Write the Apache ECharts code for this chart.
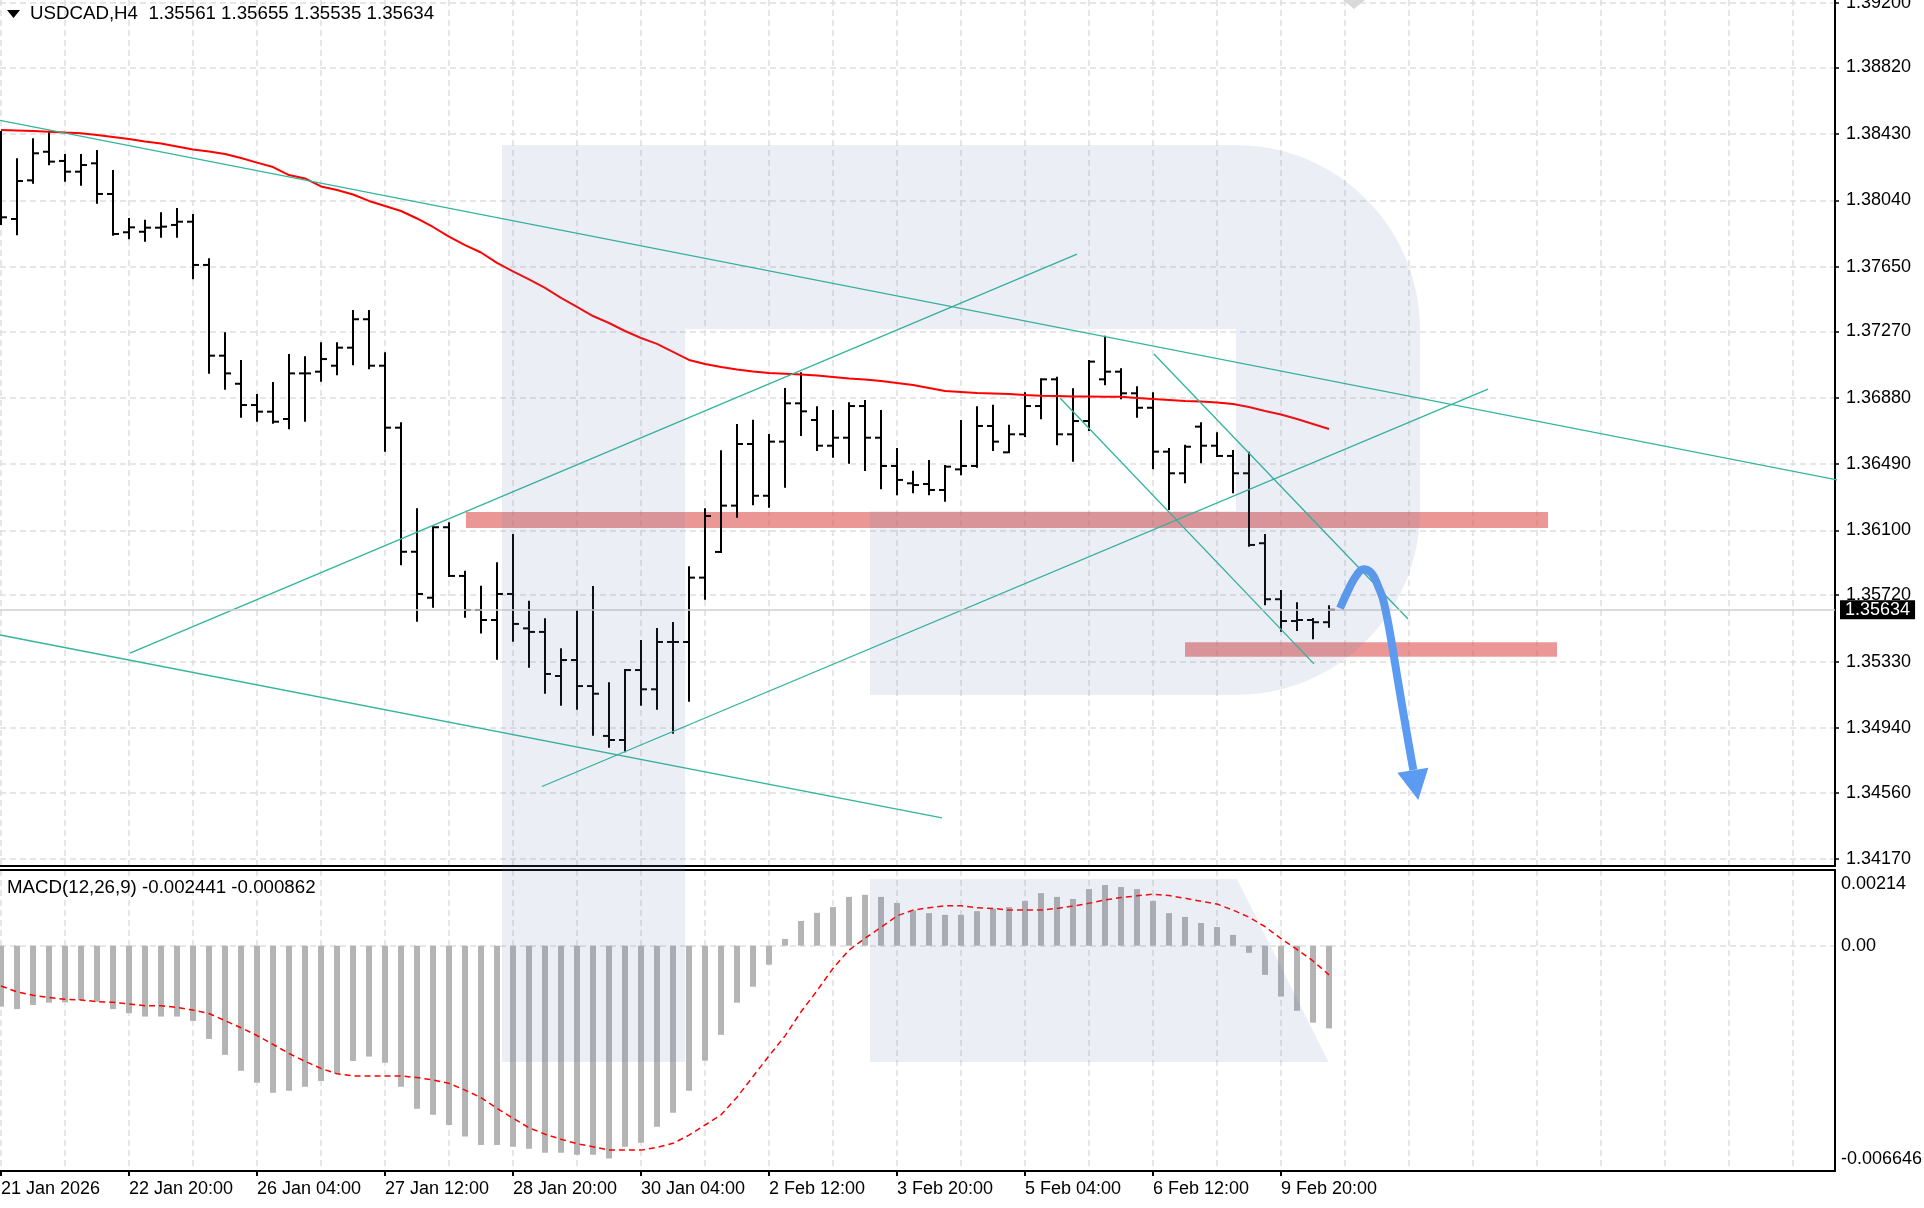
<!DOCTYPE html>
<html>
<head>
<meta charset="utf-8">
<script src="https://cdn.jsdelivr.net/npm/echarts@6.0.0/dist/echarts.min.js"></script>
<style>html,body{margin:0;padding:0;background:#fff;overflow:hidden}#c{width:1924px;height:1208px}</style>
</head>
<body>
<div id="c"></div>
<script>
// ---------------- DATA ----------------
const headerText = 'USDCAD,H4  1.35561 1.35655 1.35535 1.35634';
const macdText = 'MACD(12,26,9) -0.002441 -0.000862';

const barOpen = [1.38335,1.37930,1.38157,1.38325,1.38271,1.38208,1.38257,1.38077,1.37852,1.37855,
1.37879,1.37895,1.37914,1.37660,1.37127,1.36962,1.36837,1.36798,1.36755,1.37023,
1.37033,1.37068,1.37174,1.37341,1.37068,1.36704,1.35975,1.35705,1.36119,1.35833,
1.35633,1.35574,1.35727,1.35525,1.35504,1.35245,1.35339,1.35186,1.34893,1.34869,
1.35280,1.35167,1.35445,1.35445,1.35823,1.35974,1.36246,1.36608,1.36304,1.36622,
1.36847,1.36749,1.36598,1.36645,1.36831,1.36645,1.36479,1.36377,1.36373,1.36338,
1.36459,1.36479,1.36714,1.36559,1.36665,1.36831,1.36988,1.36665,1.36743,1.36988,
1.37033,1.36906,1.36821,1.36563,1.36436,1.36710,1.36598,1.36538,1.36436,1.36025,
1.35696,1.35568,1.35574,1.35561];
const barHigh = [1.38441,1.38281,1.38398,1.38443,1.38306,1.38306,1.38329,1.38212,1.37930,1.37920,
1.37963,1.37989,1.37953,1.37693,1.37258,1.37096,1.36896,1.36966,1.37131,1.37117,
1.37200,1.37200,1.37389,1.37389,1.37141,1.36730,1.36224,1.36119,1.36142,1.35858,
1.35770,1.35907,1.36073,1.35682,1.35578,1.35402,1.35625,1.35768,1.35202,1.35280,
1.35451,1.35521,1.35556,1.35884,1.36224,1.36565,1.36720,1.36745,1.36661,1.36931,
1.37023,1.36824,1.36802,1.36847,1.36861,1.36802,1.36579,1.36445,1.36508,1.36479,
1.36743,1.36824,1.36833,1.36716,1.36906,1.36988,1.36998,1.36930,1.37096,1.37238,
1.37047,1.36941,1.36906,1.36579,1.36598,1.36730,1.36671,1.36567,1.36557,1.36073,
1.35744,1.35672,1.35580,1.35655];
const barLow = [1.37901,1.37840,1.38143,1.38251,1.38155,1.38131,1.38026,1.37838,1.37817,1.37802,
1.37826,1.37826,1.37582,1.37027,1.36933,1.36768,1.36745,1.36733,1.36700,1.36745,
1.36980,1.37018,1.37076,1.37053,1.36569,1.35901,1.35570,1.35652,1.35833,1.35593,
1.35500,1.35347,1.35452,1.35300,1.35147,1.35076,1.35053,1.34900,1.34830,1.34803,
1.35076,1.35053,1.34912,1.35100,1.35699,1.35974,1.36181,1.36254,1.36240,1.36357,
1.36661,1.36573,1.36533,1.36498,1.36455,1.36348,1.36313,1.36324,1.36313,1.36275,
1.36430,1.36475,1.36573,1.36559,1.36655,1.36759,1.36606,1.36510,1.36690,1.36959,
1.36877,1.36768,1.36465,1.36226,1.36383,1.36501,1.36538,1.36324,1.36011,1.35666,
1.35511,1.35515,1.35467,1.35535];
const barClose = [1.37940,1.38153,1.38316,1.38267,1.38208,1.38247,1.38077,1.37842,1.37881,1.37879,
1.37885,1.37914,1.37660,1.37127,1.37023,1.36837,1.36798,1.36739,1.37023,1.37023,
1.37107,1.37174,1.37341,1.37068,1.36704,1.35975,1.35727,1.36119,1.35833,1.35633,
1.35574,1.35727,1.35551,1.35504,1.35257,1.35339,1.35186,1.35141,1.34869,1.35280,
1.35167,1.35445,1.35445,1.35823,1.36185,1.36246,1.36608,1.36304,1.36622,1.36847,
1.36800,1.36598,1.36645,1.36831,1.36645,1.36479,1.36397,1.36367,1.36338,1.36475,
1.36479,1.36714,1.36622,1.36665,1.36831,1.36988,1.36665,1.36743,1.37092,1.37033,
1.36906,1.36821,1.36563,1.36436,1.36592,1.36598,1.36538,1.36436,1.36015,1.35696,
1.35568,1.35574,1.35561,1.35634];

const maValues = [1.38453,1.38450,1.38447,1.38443,1.38438,1.38434,1.38423,1.38412,1.38400,1.38385,
1.38374,1.38356,1.38338,1.38327,1.38312,1.38288,1.38261,1.38235,1.38188,1.38168,
1.38121,1.38100,1.38074,1.38036,1.38006,1.37977,1.37933,1.37883,1.37827,1.37777,
1.37733,1.37672,1.37622,1.37575,1.37525,1.37466,1.37413,1.37360,1.37319,1.37272,
1.37231,1.37196,1.37149,1.37102,1.37078,1.37061,1.37046,1.37034,1.37025,1.37021,
1.37016,1.37010,1.37002,1.36993,1.36987,1.36978,1.36966,1.36955,1.36937,1.36919,
1.36914,1.36908,1.36905,1.36902,1.36896,1.36892,1.36890,1.36887,1.36887,1.36886,
1.36886,1.36878,1.36872,1.36867,1.36861,1.36858,1.36852,1.36843,1.36825,1.36802,
1.36781,1.36755,1.36726,1.36696];

const macdHist = [-0.00180,-0.00187,-0.00175,-0.00168,-0.00167,-0.00160,-0.00165,-0.00187,-0.00199,-0.00209,
-0.00209,-0.00209,-0.00222,-0.00275,-0.00322,-0.00369,-0.00404,-0.00434,-0.00428,-0.00416,
-0.00399,-0.00377,-0.00340,-0.00327,-0.00345,-0.00416,-0.00481,-0.00499,-0.00529,-0.00563,
-0.00588,-0.00588,-0.00593,-0.00599,-0.00611,-0.00611,-0.00617,-0.00617,-0.00628,-0.00593,
-0.00581,-0.00534,-0.00493,-0.00428,-0.00339,-0.00263,-0.00168,-0.00121,-0.00056,0.00020,
0.00073,0.00097,0.00114,0.00144,0.00150,0.00144,0.00126,0.00104,0.00096,0.00091,
0.00091,0.00102,0.00109,0.00114,0.00132,0.00155,0.00144,0.00138,0.00167,0.00179,
0.00173,0.00167,0.00132,0.00096,0.00085,0.00067,0.00055,0.00032,-0.00021,-0.00086,
-0.00150,-0.00192,-0.00227,-0.00244];
const macdSignal = [-0.00119,-0.00136,-0.00146,-0.00153,-0.00158,-0.00160,-0.00165,-0.00167,-0.00172,-0.00177,
-0.00177,-0.00182,-0.00190,-0.00200,-0.00221,-0.00242,-0.00265,-0.00291,-0.00318,-0.00341,
-0.00362,-0.00378,-0.00384,-0.00384,-0.00384,-0.00384,-0.00389,-0.00396,-0.00406,-0.00426,
-0.00448,-0.00480,-0.00509,-0.00537,-0.00556,-0.00571,-0.00584,-0.00593,-0.00603,-0.00603,
-0.00603,-0.00595,-0.00583,-0.00559,-0.00529,-0.00499,-0.00447,-0.00386,-0.00325,-0.00266,
-0.00195,-0.00133,-0.00067,-0.00013,0.00022,0.00054,0.00088,0.00105,0.00112,0.00118,
0.00118,0.00112,0.00110,0.00105,0.00105,0.00105,0.00110,0.00117,0.00125,0.00135,
0.00142,0.00147,0.00152,0.00148,0.00140,0.00131,0.00123,0.00105,0.00084,0.00056,
0.00021,-0.00011,-0.00045,-0.00086];

const priceTicks = [1.39200,1.38820,1.38430,1.38040,1.37650,1.37270,1.36880,1.36490,1.36100,1.35720,1.35330,1.34940,1.34560,1.34170];
const timeLabels = ['21 Jan 2026','22 Jan 20:00','26 Jan 04:00','27 Jan 12:00','28 Jan 20:00','30 Jan 04:00','2 Feb 12:00','3 Feb 20:00','5 Feb 04:00','6 Feb 12:00','9 Feb 20:00'];
const timeLabelIdx = [0,8,16,24,32,40,48,56,64,72,80];
const gridIdx = [0,4,8,12,16,20,24,28,32,36,40,44,48,52,56,60,64,68,72,76,80,84,88,92,96,100,104,108,112];
const macdTicks = [0.00214, 0, -0.006646];
const macdTickText = ['0.00214','0.00','-0.006646'];
const bidPrice = 1.35634;

// trend lines: [bar index, price] pairs
const trendLines = [
  [[-0.06,1.38510],[120.19,1.36297]],
  [[-0.06,1.35486],[58.81,1.34411]],
  [[8.06,1.35380],[67.25,1.37724]],
  [[33.81,1.34596],[92.94,1.36931]],
  [[66.19,1.36878],[82.06,1.35316]],
  [[72.06,1.37137],[87.94,1.35580]]
];
// horizontal zones: [[startIdx, topPrice],[endIdx, bottomPrice]]
const zones = [
  [[29.06,1.36209],[96.69,1.36115]],
  [[74.00,1.35443],[97.25,1.35358]]
];
// forecast arrow (bar index, price)
const arrowPath = [[83.69,1.35643],[84.31,1.35770],[84.73,1.35838],[85.14,1.35872],[85.67,1.35848],[86.08,1.35770],[86.39,1.35692],[86.81,1.35498],[87.33,1.35204],[87.86,1.34910],[88.27,1.34693]];
const arrowHead = [[87.27,1.34677],[89.21,1.34706],[88.58,1.34517]];

// ---------------- CHART ----------------
const FONT = 'Liberation Sans';
const X_MIN = -0.0625, X_MAX = 114.625;
const Y_MAX = 1.3921656, Y_MIN = 1.3412881;
const TEAL = '#31b59b';
const BLUE = '#5b9bf2';
const gridLine = {show:true, lineStyle:{color:'#dedede', width:1.5, type:[6,4]}};
const ohlc = barOpen.map((o,i)=>[i,o,barClose[i],barLow[i],barHigh[i]]);

const chart = echarts.init(document.getElementById('c'), null, {renderer:'canvas'});

function arcPts(cx, cy, r, a0, a1, n){
  const p=[]; for(let k=0;k<=n;k++){const a=(a0+(a1-a0)*k/n)*Math.PI/180; p.push([cx+r*Math.cos(a), cy+r*Math.sin(a)]);} return p;
}
const LOGO = 'rgba(98,128,180,0.13)';
const bowl = [[685,145]].concat(arcPts(1236,329,184,-90,0,24)).concat(arcPts(1236,511,184,0,90,24)).concat([[870,695],[870,511],[1236,511],[1236,329],[685,329]]);

const series = [];
// zones
series.push({
  type:'line', xAxisIndex:0, yAxisIndex:0, data:[], z:1, silent:true,
  markArea:{silent:true, itemStyle:{color:'rgba(221,82,80,0.6)'},
    data: zones.map(z=>[{coord:z[0]},{coord:z[1]}])}
});
// OHLC bars
series.push({
  type:'custom', xAxisIndex:0, yAxisIndex:0, z:2, data: ohlc,
  encode:{x:0, y:[1,2,3,4]},
  renderItem:(params, api)=>{
    const x = api.value(0);
    const o = api.coord([x, api.value(1)]);
    const c = api.coord([x, api.value(2)]);
    const l = api.coord([x, api.value(3)]);
    const h = api.coord([x, api.value(4)]);
    const cx = Math.round(o[0]);
    return {type:'group', children:[
      {type:'rect', shape:{x:cx-1, y:h[1]-1, width:2, height:Math.max(2,l[1]-h[1]+2)}, style:{fill:'#000'}},
      {type:'rect', shape:{x:cx-6, y:o[1]-1, width:5, height:2}, style:{fill:'#000'}},
      {type:'rect', shape:{x:cx+1, y:c[1]-1, width:5, height:2}, style:{fill:'#000'}}
    ]};
  }
});
// moving average + bid line
series.push({
  type:'line', xAxisIndex:0, yAxisIndex:0, z:3, symbol:'none', silent:true,
  data: maValues.map((v,i)=>[i,v]),
  lineStyle:{color:'#ff0000', width:2},
  markLine:{silent:true, precision:6, symbol:['none','none'], data:[{yAxis:bidPrice}],
    lineStyle:{color:'#cfcfcf', width:1.5, type:'solid'},
    label:{show:true, position:'end', formatter: bidPrice.toFixed(5), backgroundColor:'#000', color:'#fff',
      fontFamily:FONT, fontSize:18, padding:[1,5,0,5], distance:5}}
});
// trend lines
trendLines.forEach(t=>series.push({
  type:'line', xAxisIndex:0, yAxisIndex:0, z:4, symbol:'none', clip:false, silent:true,
  data:t, lineStyle:{color:TEAL, width:1.3}
}));
// arrow
series.push({
  type:'line', xAxisIndex:0, yAxisIndex:0, z:5, symbol:'none', clip:false, smooth:0.4, silent:true,
  data: arrowPath, lineStyle:{color:BLUE, width:8, cap:'butt'}
});
series.push({
  type:'custom', xAxisIndex:0, yAxisIndex:0, z:5, clip:false, silent:true,
  data:[arrowHead[2]],
  renderItem:(params, api)=>({type:'polygon', shape:{points: arrowHead.map(p=>api.coord(p))}, style:{fill:BLUE}})
});
// MACD
series.push({
  type:'bar', xAxisIndex:2, yAxisIndex:1, barWidth:6, silent:true,
  data: macdHist.map((v,i)=>[i,v]), itemStyle:{color:'#b4b4b4'}
});
series.push({
  type:'line', xAxisIndex:2, yAxisIndex:1, symbol:'none', silent:true,
  data: macdSignal.map((v,i)=>[i,v]), lineStyle:{color:'#ff0000', width:1.5, type:[6,4]}
});

const option = {
  animation:false,
  backgroundColor:'#ffffff',
  grid:[
    {left:0, top:0, width:1835, height:866, outerBoundsMode:'none'},
    {left:0, top:870, width:1835, height:301, outerBoundsMode:'none'}
  ],
  xAxis:[
    {gridIndex:0, type:'value', min:X_MIN, max:X_MAX, position:'bottom',
      axisLine:{show:true, onZero:false, lineStyle:{color:'#000', width:2}},
      axisTick:{show:false, customValues:gridIdx}, axisLabel:{show:false}, splitLine:gridLine},
    {gridIndex:1, type:'value', min:X_MIN, max:X_MAX, position:'top',
      axisLine:{show:true, onZero:false, lineStyle:{color:'#000', width:2}},
      axisTick:{show:false, customValues:gridIdx}, axisLabel:{show:false}, splitLine:gridLine},
    {gridIndex:1, type:'value', min:X_MIN, max:X_MAX, position:'bottom',
      axisLine:{show:true, onZero:false, lineStyle:{color:'#000', width:2}},
      axisTick:{show:true, customValues:timeLabelIdx, length:5, lineStyle:{color:'#000', width:2}},
      axisLabel:{show:true, customValues:timeLabelIdx, align:'left', margin:9,
        formatter:(v)=>timeLabels[timeLabelIdx.indexOf(Math.round(v))] || '',
        fontFamily:FONT, fontSize:18, color:'#000'},
      splitLine:{show:false}}
  ],
  yAxis:[
    {gridIndex:0, type:'value', position:'right', min:Y_MIN, max:Y_MAX,
      axisLine:{show:true, onZero:false, lineStyle:{color:'#000', width:2}},
      axisTick:{show:true, customValues:priceTicks, length:4, lineStyle:{color:'#000', width:1.5}},
      axisLabel:{show:true, customValues:priceTicks, margin:11, formatter:(v)=>v.toFixed(5),
        fontFamily:FONT, fontSize:18, color:'#000'},
      splitLine:gridLine},
    {gridIndex:1, type:'value', position:'right', min:-0.006646, max:0.002233,
      axisLine:{show:true, onZero:false, lineStyle:{color:'#000', width:2}},
      axisTick:{show:false, customValues:[0]},
      axisLabel:{show:true, customValues:macdTicks, margin:6,
        formatter:(v)=>{
          let k = 0, best = 1;
          macdTicks.forEach((t,i)=>{const d=Math.abs(t-v); if(d<best){best=d;k=i;}});
          const tag = k===0?'top':(k===2?'bot':'mid');
          return '{'+tag+'|'+macdTickText[k]+'}';
        },
        rich:{
          top:{fontFamily:FONT, fontSize:18, color:'#000', padding:[22,0,0,0]},
          mid:{fontFamily:FONT, fontSize:18, color:'#000'},
          bot:{fontFamily:FONT, fontSize:18, color:'#000', padding:[0,0,24,0]}
        }},
      splitLine:gridLine}
  ],
  graphic:[
    {type:'rect', z:100, silent:true, shape:{x:502, y:145, width:183, height:917}, style:{fill:LOGO}},
    {type:'polygon', z:100, silent:true, shape:{points:bowl}, style:{fill:LOGO}},
    {type:'polygon', z:100, silent:true, shape:{points:[[870,879],[1237,879],[1328.6,1062],[870,1062]]}, style:{fill:LOGO}},
    {type:'polygon', z:101, silent:true, shape:{points:[[7,10],[20,10],[13.5,18]]}, style:{fill:'#000'}},
    {type:'text', z:101, silent:true, x:30, y:14, style:{text:headerText, font:'18.7px "Liberation Sans"', fill:'#000', verticalAlign:'middle', align:'left'}},
    {type:'text', z:101, silent:true, x:7, y:888, style:{text:macdText, font:'18.7px "Liberation Sans"', fill:'#000', verticalAlign:'middle', align:'left'}},
    {type:'polygon', z:101, silent:true, shape:{points:[[1343,0],[1365,0],[1354,9]]}, style:{fill:'#d9d9d9'}}
  ],
  series: series
};
chart.setOption(option);
</script>
</body>
</html>
